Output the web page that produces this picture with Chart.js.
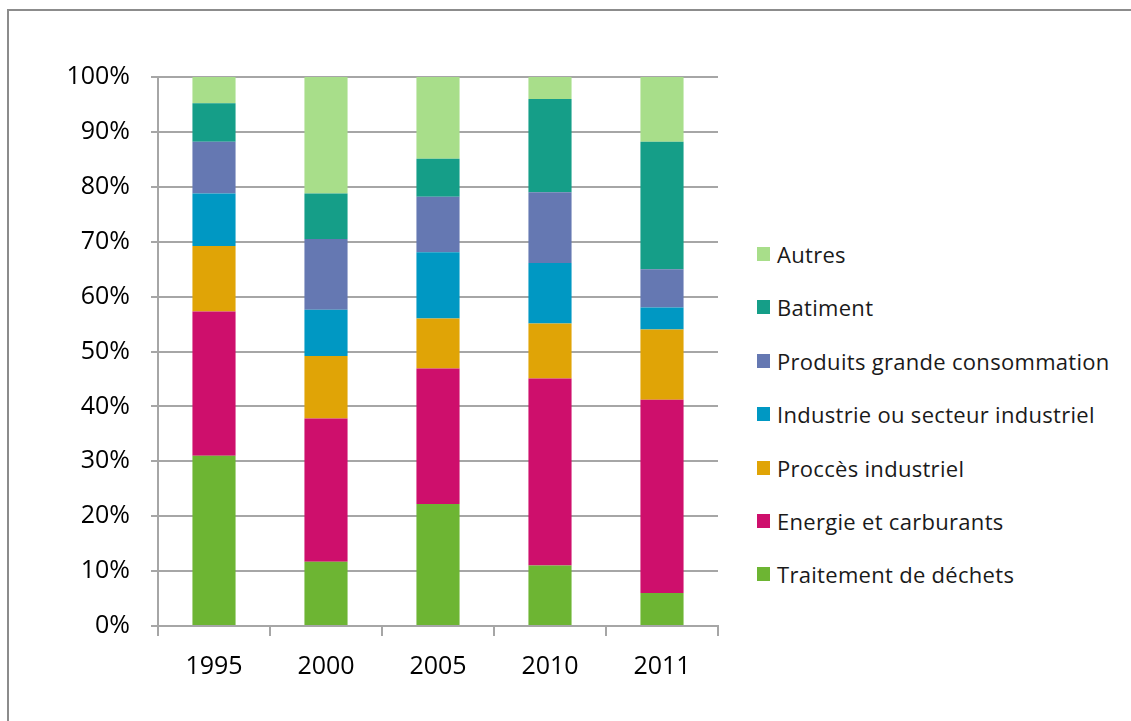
<!DOCTYPE html>
<html>
<head>
<meta charset="utf-8">
<script src="https://cdn.jsdelivr.net/npm/chart.js@4/dist/chart.umd.min.js"></script>
<style>
  html, body { margin: 0; padding: 0; background: #fff; }
  #wrap { position: relative; width: 1131px; height: 721px; overflow: hidden; }
  #frame { position: absolute; left: 7px; top: 9px; width: 1200px; height: 800px;
           border-left: 2px solid #8c8c8c; border-top: 2px solid #8c8c8c; }
  #chart { position: absolute; left: 0; top: 0; }
  #legend { position: absolute; left: 757px; top: 0; font-family: "Open Sans", sans-serif;
            font-size: 22px; letter-spacing: 0.3px; color: #1a1a1a; }
  .item { position: absolute; left: 0; white-space: nowrap; height: 24px; line-height: 24px; }
  .box { position: absolute; left: 0; top: 5px; width: 13px; height: 14px; }
  .lbl { position: absolute; left: 20px; top: 0; }
</style>
</head>
<body>
<div id="wrap">
  <div id="frame"></div>
  <canvas id="chart" width="740" height="721"></canvas>
  <div id="legend"></div>
</div>
<script>
var years = ["1995", "2000", "2005", "2010", "2011"];

var traitement = [31.0, 11.7, 22.2, 11.0, 6.0];
var energie    = [26.3, 26.1, 24.7, 34.1, 35.2];
var procces    = [11.9, 11.4,  9.1, 10.0, 12.8];
var industrie  = [ 9.6,  8.4, 12.1, 11.0,  4.0];
var produits   = [ 9.4, 12.9, 10.1, 12.9,  7.0];
var batiment   = [ 7.0,  8.3,  6.9, 17.0, 23.2];
var autres     = [ 4.8, 21.2, 14.9,  4.0, 11.8];

var yTicks = [0, 10, 20, 30, 40, 50, 60, 70, 80, 90, 100];

var series = [
  { name: "Traitement de déchets",            data: traitement, color: "#6db533" },
  { name: "Energie et carburants",            data: energie,    color: "#ce0f6c" },
  { name: "Proccès industriel",               data: procces,    color: "#e0a406" },
  { name: "Industrie ou secteur industriel",  data: industrie,  color: "#0098c3" },
  { name: "Produits grande consommation",     data: produits,   color: "#6578b2" },
  { name: "Batiment",                         data: batiment,   color: "#159e88" },
  { name: "Autres",                           data: autres,     color: "#a8de8a" }
];

var tickFont = { family: "'Open Sans', sans-serif", size: 25 };

function renderChart() {
  var ctx = document.getElementById("chart").getContext("2d");
  new Chart(ctx, {
    type: "bar",
    data: {
      labels: years,
      datasets: series.map(function(s) {
        return {
          label: s.name,
          data: s.data,
          backgroundColor: s.color,
          borderWidth: 0,
          barPercentage: 0.385,
          categoryPercentage: 1
        };
      })
    },
    options: {
      responsive: false,
      animation: false,
      layout: { padding: { left: 0, top: 77, right: 22, bottom: 0 } },
      plugins: {
        legend: { display: false },
        tooltip: { enabled: false }
      },
      scales: {
        x: {
          stacked: true,
          afterFit: function(scale) { scale.height = 95; },
          grid: { drawOnChartArea: false, drawTicks: true, tickLength: 10, color: "#a6a6a6", lineWidth: 2 },
          border: { color: "#a6a6a6", width: 2 },
          ticks: { font: tickFont, color: "#000", padding: 16 }
        },
        y: {
          stacked: true,
          min: 0,
          max: 100,
          afterFit: function(scale) { scale.width = 158; },
          afterBuildTicks: function(scale) {
            scale.ticks = yTicks.map(function(v) { return { value: v }; });
          },
          grid: { color: "#a6a6a6", lineWidth: 2, tickLength: 7 },
          border: { color: "#a6a6a6", width: 2 },
          ticks: {
            font: tickFont,
            color: "#000",
            padding: 21,
            callback: function(v) { return v + "%"; }
          }
        }
      }
    }
  });
}

function renderLegend() {
  var legend = document.getElementById("legend");
  var top = 254;
  var step = 53.4;
  series.slice().reverse().forEach(function(s, i) {
    var div = document.createElement("div");
    div.className = "item";
    div.style.top = (top + i * step - 12) + "px";
    div.innerHTML =
      '<span class="box" style="background:' + s.color + '"></span>' +
      '<span class="lbl">' + s.name + '</span>';
    legend.appendChild(div);
  });
}

document.addEventListener("DOMContentLoaded", function() {
  renderChart();
  renderLegend();
});
</script>
</body>
</html>
